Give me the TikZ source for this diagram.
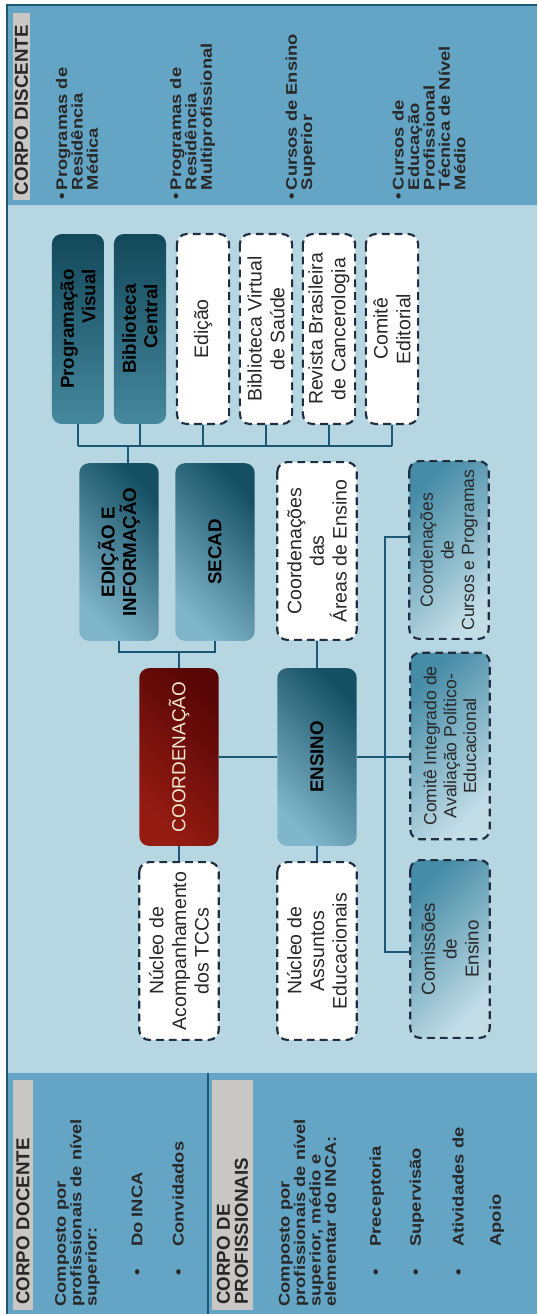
\documentclass[tikz,border=0pt]{standalone}
\usepackage{fontspec}
\setmainfont{Liberation Sans}
\usepackage{xcolor}
\usetikzlibrary{positioning}

\definecolor{panelblue}{RGB}{100,164,196}
\definecolor{areablue}{RGB}{182,215,226}
\definecolor{headgray}{RGB}{200,199,196}
\definecolor{linecol}{RGB}{28,88,118}
\definecolor{dashcol}{RGB}{32,46,66}
\definecolor{tealdark}{RGB}{22,80,100}
\definecolor{teallight}{RGB}{128,182,204}
\definecolor{tealdeep}{RGB}{18,72,90}
\definecolor{tealmid}{RGB}{70,136,158}
\definecolor{tealsoft}{RGB}{70,140,166}
\definecolor{tealpale}{RGB}{196,222,232}
\definecolor{redlight}{RGB}{150,28,18}
\definecolor{reddark}{RGB}{88,6,6}
\definecolor{creme}{RGB}{246,232,208}
\definecolor{txtdark}{RGB}{40,40,40}

\newcommand{\itm}[1]{\makebox[0.52cm][l]{\textbullet}#1}
\newcommand{\bul}{\llap{\textbullet\,}}

\tikzset{
  caixa/.style={rotate=90, rounded corners=5pt, align=center, inner sep=1pt},
  linha/.style={draw=linecol, line width=1.1pt},
  topo/.style={minimum width=3.42cm, minimum height=0.94cm},
  meio/.style={minimum width=3.2cm, minimum height=1.43cm},
  escura/.style={caixa, top color=tealdark, bottom color=teallight, shading angle=-45, text=black, font=\fontsize{9.6}{11}\selectfont\bfseries},
  escura2/.style={escura, top color=tealdeep, bottom color=tealmid, align=right},
  vermelha/.style={caixa, top color=reddark, bottom color=redlight, shading angle=-45, text=creme, font=\fontsize{9.7}{11}\selectfont},
  branca/.style={caixa, draw=dashcol, line width=1.1pt, dash pattern=on 4pt off 2.6pt, fill=white, text=txtdark, font=\fontsize{10}{11.6}\selectfont},
  tracejada/.style={branca, top color=tealsoft, bottom color=tealpale, shading angle=45},
  cabec/.style={rotate=90, fill=headgray, inner xsep=0.09cm, inner ysep=0pt, align=left, text=txtdark, font={\fontsize{9.6}{9.2}\selectfont\bfseries\lineskiplimit=-10pt}},
  painel/.style={rotate=90, yscale=0.84, inner sep=0pt, align=left, anchor=west, text=txtdark, font={\fontsize{9.4}{9.4}\selectfont\bfseries\lineskiplimit=-10pt}}
}

\begin{document}
\begin{tikzpicture}[x=0.018cm, y=-0.018cm]
\useasboundingbox (0,0) rectangle (537,1314);
% fundo e paineis
\fill[white] (0,0) rectangle (537,1314);
\fill[areablue] (7,205) rectangle (537,1073);
\fill[panelblue] (7,5) rectangle (537,205);
\fill[panelblue] (7,1073) rectangle (537,1314);
\draw[linecol, line width=0.8pt] (7,1314) -- (7,5) -- (537,5);
\draw[linecol, line width=0.8pt] (208,1073) -- (208,1314);

% corpo discente
\node[cabec, minimum width=3.37cm, text width=3.19cm, minimum height=0.31cm] (cdisc) at (21.5,106.5) {CORPO DISCENTE};
\node[painel] (rmed) at (77,190.5) {\bul Programas de\\Residência\\Médica};
\node[painel] (rmulti) at (192.5,190.5) {\bul Programas de\\Residência\\Multiprofissional};
\node[painel] (csup) at (300.5,190.5) {\bul Cursos de Ensino\\Superior};
\node[painel] (ctec) at (429,190.5) {\bul Cursos de\\Educação\\Profissional\\Técnica de Nível\\Médio};

% corpo docente e profissionais
\node[cabec, minimum width=4.14cm, text width=3.96cm, minimum height=0.36cm] (cdoc) at (23,1195) {CORPO DOCENTE};
\node[painel] (tdoc) at (77.5,1307) {Composto por\\profissionais de nível\\superior:};
\node[painel] (inca) at (137,1276) {\itm{Do INCA}};
\node[painel] (conv) at (178,1276) {\itm{Convidados}};
\node[cabec, minimum width=4.14cm, text width=3.96cm, minimum height=0.74cm] (cprof) at (232.5,1195) {CORPO DE\\PROFISSIONAIS};
\node[painel] (tprof) at (307.5,1307) {Composto por\\profissionais de nível\\superior, médio e\\elementar do INCA:};
\node[painel] (prec) at (377,1276) {\itm{Preceptoria}};
\node[painel] (superv) at (417,1276) {\itm{Supervisão}};
\node[painel] (ativ) at (458,1276) {\itm{Atividades de}};
\node[painel] (apoio) at (497,1247) {Apoio};

% linha de cima
\node[escura2, topo] (progvis) at (78,329) {Programação\\Visual};
\node[escura2, topo] (biblc) at (140,329) {Biblioteca\\Central};
\node[branca, topo] (edicao) at (203,329) {Edição};
\node[branca, topo] (bvs) at (266,329) {Biblioteca Virtual\\de Saúde};
\node[branca, topo] (rbc) at (329,329) {Revista Brasileira\\de Cancerologia};
\node[branca, topo] (cedit) at (392,329) {Comitê\\Editorial};

% caixas do meio
\node[escura, meio] (edinfo) at (119,552) {EDIÇÃO E\\INFORMAÇÃO};
\node[escura, meio] (secad) at (215,552) {SECAD};
\node[branca, meio] (careas) at (317,551) {Coordenações\\das\\Áreas de Ensino};
\node[vermelha, meio] (coordn) at (179,757) {COORDENAÇÃO};
\node[escura, meio] (ensino) at (317,757) {ENSINO};
\node[branca, meio] (ntcc) at (179,951) {Núcleo de\\Acompanhamento\\dos TCCs};
\node[branca, meio] (nae) at (317,951) {Núcleo de\\Assuntos\\Educacionais};
\node[tracejada, meio, font=\fontsize{9}{10.6}\selectfont] (ccursos) at (449,550) {Coordenações\\de\\Cursos e Programas};
\node[tracejada, meio, minimum width=3.36cm, font=\fontsize{9}{10.2}\selectfont] (cipe) at (450,746) {Comitê Integrado de\\Avaliação Político-\\Educacional};
\node[tracejada, meio, font=\fontsize{9.6}{11.2}\selectfont] (comens) at (450,949) {Comissões\\de\\Ensino};

% ligacoes
\coordinate (tbus) at (128,446);
\foreach \n in {progvis,biblc,edicao,bvs,rbc,cedit}
  \draw[linha] (\n.west) -- (\n.west |- tbus);
\draw[linha] (progvis.west |- tbus) -- (cedit.west |- tbus);
\draw[linha] (tbus) -- (tbus |- edinfo.east);
\coordinate (cbus) at (179,652);
\draw[linha] (edinfo.west) |- (cbus) -| (secad.west);
\draw[linha] (cbus) -- (coordn.east);
\draw[linha] (careas.west) -- (ensino.east);
\draw[linha] (coordn.south) -- (ensino.north);
\draw[linha] (coordn.west) -- (ntcc.east);
\draw[linha] (ensino.west) -- (nae.east);
\coordinate (vtop) at (385,537);
\coordinate (vbot) at (385,952);
\draw[linha] (ccursos.north |- vtop) -- (vtop) -- (vbot) -- (comens.north |- vbot);
\draw[linha] (ensino.south) -- (ensino.south -| cipe.north);
\end{tikzpicture}
\end{document}
